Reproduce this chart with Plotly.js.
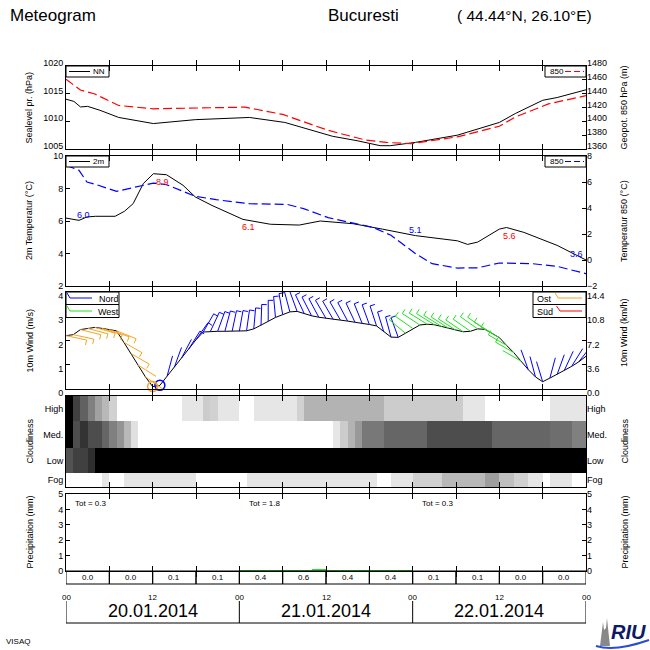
<!DOCTYPE html>
<html><head><meta charset="utf-8">
<script src="https://cdn.plot.ly/plotly-3.0.1.min.js"></script>
<style>html,body{margin:0;padding:0;background:#fff}#chart{width:650px;height:650px}</style>
</head><body><div id="chart"></div>
<script>
// ---------------- DATA ----------------
const pHours = [0,1.1,2,3,4.7,7.3,12.1,17.9,25.4,30.3,36.9,40.3,43.5,44.9,48.4,54.2,60,62.2,66,68,72];
const pNN = [1014.0,1013.6,1012.6,1012.7,1012.0,1010.7,1009.6,1010.3,1010.7,1009.8,1007.3,1006.5,1005.6,1005.6,1006.2,1007.5,1009.8,1011.4,1013.8,1014.3,1015.7];
const gHours = [0,2,4,7.3,12.1,17.9,24.8,26.5,30,36.3,41.5,44.4,47.8,54.2,60,62.2,66.8,72];
const g850 = [1460.9,1445.2,1439.5,1422.9,1418.1,1419.5,1420.5,1417.1,1410,1387,1372.9,1369.5,1367.6,1377.6,1392.9,1406.2,1425.2,1437.1];

const tHours = [0,1.8,2.9,4.1,6.8,8.1,9.3,10.7,12.1,13.9,16.2,17.9,20.2,23.1,24.5,28.3,32.3,35.2,39.8,43.8,48.4,54.2,55.6,57,60,61,63.4,68,72];
const t2m = [6.18,6.04,6.25,6.29,6.29,6.6,7.07,8.3,8.91,8.85,8.2,7.48,6.96,6.35,6.1,5.8,5.75,6.0,5.83,5.5,5.1,4.78,4.56,4.7,5.5,5.6,5.3,4.5,3.6];
const t850Hours = [0,1.8,2.9,4.1,7,9.8,12.1,13.9,17.9,20.8,25.4,30.6,32.9,36.3,39.2,42.6,45,48.4,50.7,54.2,57,60,64.5,68,72];
const t850 = [7.28,6.9,6.0,5.82,5.28,5.6,5.92,5.8,4.9,4.64,4.33,4.28,3.95,3.26,2.92,2.49,1.9,0.49,-0.28,-0.62,-0.6,-0.23,-0.28,-0.49,-1.05];
const tLabelHours = [2.4,13.3,25.3,48.4,61.4,70.7];
const tLabelVals = [6.0,8.9,6.1,5.1,5.6,3.6];
const tLabelKind = ['min','max','max','min','max','min'];

const windHours = Array.from({length:73},(_,i)=>i);
const windSpeed = [2.2,2.24,2.45,2.5,2.54,2.5,2.45,2.4,1.93,1.46,0.98,0.5,0.1,0.15,0.53,0.9,1.28,1.65,2.03,2.35,
  2.38,2.38,2.38,2.38,2.38,2.4,2.48,2.62,2.79,2.95,3.08,3.18,3.2,3.1,3.02,2.96,2.91,2.87,2.84,2.8,
  2.76,2.71,2.66,2.6,2.35,2.14,2.13,2.3,2.5,2.64,2.67,2.65,2.58,2.5,2.42,2.36,2.38,2.48,2.46,2.3,
  2.12,1.8,1.5,1.15,0.8,0.5,0.3,0.45,0.6,0.77,0.93,1.12,1.35];
const windDir = [102,102,104,105,106,108,110,112,120,120,122,125,125,10,15,20,28,32,35,30,
  25,20,15,12,10,8,5,2,0,355,350,345,340,335,333,332,330,330,330,332,
  335,338,340,342,343,345,340,310,305,303,302,302,302,303,303,304,305,305,305,302,
  300,300,300,300,340,345,343,15,20,25,32,38,44];

const cloudHigh = [1,.75,.62,.5,.37,.28,.18,0,0,0,0,0,0,0,0,0,.1,.1,.1,.2,.18,.1,.1,.1,0,0,.1,.1,.1,.1,.1,.1,.18,
  .3,.3,.3,.3,.3,.3,.3,.3,.3,.3,.3,.2,.2,.2,.2,.2,.2,.2,.2,.2,.2,.2,.1,.1,.1,0,0,0,0,0,0,0,0,0,.1,.1,.1,.1,.1];
const cloudMed = [1,.7,.8,.7,.7,.6,.5,.42,.28,.12,0,0,0,0,0,0,0,0,0,0,0,0,0,0,0,0,0,0,0,0,0,0,0,0,0,0,0,
  .1,.2,.3,.4,.53,.53,.53,.6,.6,.6,.6,.6,.6,.7,.7,.7,.7,.7,.7,.7,.7,.7,.6,.6,.6,.6,.6,.6,.6,.6,.57,.57,.57,.5,.5];
const cloudLow = [.68,.75,.75,.82].concat(Array(68).fill(1));
const cloudFog = [0,0,0,0,0,.1,0,0,.1,.1,.1,.1,.1,.1,.1,.1,.1,.1,0,0,0,0,0,0,0,
  .1,.1,.1,.1,.1,.1,.1,.1,.1,.1,.1,.1,.1,.1,.1,.1,.1,.1,0,0,.1,.1,.1,.18,.18,.18,.18,
  .28,.28,.28,.28,.28,.28,.38,.38,.25,.25,.18,.18,.1,.1,0,.1,.1,.1,0,0];
const cloudRows = ['Fog','Low','Med.','High'];

const precipHourly = [0,0,0,0,0,0,0,0,0,0,0,0,.02,.02,.01,.02,.02,.01,.02,.02,.01,.02,.02,.01,
  .04,.05,.06,.07,.09,.09,.09,.09,.08,.09,.12,.13,.08,.07,.07,.06,.06,.06,.05,.08,.08,.08,.06,.05,
  .02,.02,.01,.02,.02,.01,.02,.02,.01,.02,.02,.01,0,0,0,0,0,0,0,0,0,0,0,0];
const precip6h = [0.0,0.0,0.1,0.1,0.4,0.6,0.4,0.4,0.1,0.1,0.0,0.0];
const precipDayTot = [0.3,1.8,0.3];
const hourTickVals = [0,12,24,36,48,60,72];
const hourTickText = ['00','12','00','12','00','12','00'];
const dates = ['20.01.2014','21.01.2014','22.01.2014'];

// ---------------- LAYOUT HELPERS ----------------
const H = 650, L = 66, R = 586, PW = R - L;
const py = p => 1 - p / H;
const pxp = p => (p - L) / PW;
const FONT = 'Liberation Sans, Arial, sans-serif';
const dom = (top, bot) => [py(bot), py(top)];
const P1 = [66,149], P2 = [156,286], P3 = [292,389], P4 = [396,487], P5 = [494,571];

function xa(anchor){
  return {domain:[0,1], anchor, range:[0,72], showticklabels:false, ticks:'inside', tick0:0, dtick:6,
    ticklen:5, tickcolor:'#000', showline:true, linecolor:'#000', linewidth:1, mirror:'allticks',
    showgrid:false, zeroline:false, fixedrange:true};
}
function ya(d, range, extra){
  return Object.assign({domain:dom(d[0],d[1]), range, ticks:'inside', ticklen:4, tickcolor:'#000',
    showline:true, linecolor:'#000', linewidth:1, mirror:true, showgrid:false, zeroline:false,
    tickfont:{size:9, color:'#000', family:FONT}, fixedrange:true}, extra||{});
}
function yr(d, range, anchor, over, extra){
  return Object.assign({domain:dom(d[0],d[1]), range, anchor, overlaying:over, side:'right',
    ticks:'inside', ticklen:4, tickcolor:'#000', showline:false, showgrid:false, zeroline:false,
    tickfont:{size:9, color:'#000', family:FONT}, fixedrange:true}, extra||{});
}

const traces = [];
// Panel 1
traces.push({x:pHours, y:pNN, xaxis:'x', yaxis:'y', mode:'lines', line:{color:'#000', width:1}, hoverinfo:'skip'});
traces.push({x:gHours, y:g850, xaxis:'x', yaxis:'y6', mode:'lines', line:{color:'#ff0000', width:1.2, dash:'9px,4px'}, hoverinfo:'skip'});
// Panel 2
traces.push({x:tHours, y:t2m, xaxis:'x2', yaxis:'y2', mode:'lines', line:{color:'#000', width:1}, hoverinfo:'skip'});
traces.push({x:t850Hours, y:t850, xaxis:'x2', yaxis:'y7', mode:'lines', line:{color:'#0000ff', width:1.2, dash:'9px,4px'}, hoverinfo:'skip'});
// Panel 3 wind
traces.push({x:windHours, y:windSpeed, xaxis:'x3', yaxis:'y3', mode:'lines', line:{color:'#000', width:1}, hoverinfo:'skip'});
traces.push({x:windHours, y:windSpeed.map(v=>v*3.6), xaxis:'x3', yaxis:'y8', mode:'lines', line:{color:'rgba(0,0,0,0)', width:0}, hoverinfo:'skip'});
const qCol = {N:'#0000ff', W:'#22e022', E:'#f5a623', S:'#ff0000'};
function quad(d){ d=((d%360)+360)%360; if(d>=315||d<45) return 'N'; if(d<135) return 'E'; if(d<225) return 'S'; return 'W'; }
const pxH = PW/72, pxS = (P3[1]-P3[0])/4;
const segs = {N:{x:[],y:[]},W:{x:[],y:[]},E:{x:[],y:[]},S:{x:[],y:[]}};
const calm = {N:{x:[],y:[]},W:{x:[],y:[]},E:{x:[],y:[]},S:{x:[],y:[]}};
windHours.forEach((h,i)=>{
  const s = windSpeed[i], d = windDir[i], q = quad(d);
  if (s < 0.2){ calm[q].x.push(h); calm[q].y.push(s); return; }
  const r = d*Math.PI/180, Ls = 21;
  const ex = h + Ls*Math.sin(r)/pxH, ey = s + Ls*Math.cos(r)/pxS;
  segs[q].x.push(h, ex, null); segs[q].y.push(s, ey, null);
  if (s >= 1.4){
    const r2 = (d+90)*Math.PI/180, Lf = 5;
    segs[q].x.push(ex, ex + Lf*Math.sin(r2)/pxH, null);
    segs[q].y.push(ey, ey + Lf*Math.cos(r2)/pxS, null);
  }
});
Object.keys(segs).forEach(q=>{
  if (segs[q].x.length) traces.push({x:segs[q].x, y:segs[q].y, xaxis:'x3', yaxis:'y3', mode:'lines', line:{color:qCol[q], width:1}, hoverinfo:'skip', connectgaps:false});
  if (calm[q].x.length) traces.push({x:calm[q].x, y:calm[q].y, xaxis:'x3', yaxis:'y3', mode:'markers', marker:{symbol:'circle-open', size:10, color:qCol[q], line:{width:1.5, color:qCol[q]}}, cliponaxis:false, hoverinfo:'skip'});
});
// Panel 4 clouds
const rowEdges = [0,14,39.3,65.6,91];
traces.push({type:'heatmap', x:Array.from({length:73},(_,i)=>i), y:rowEdges, z:[cloudFog, cloudLow, cloudMed, cloudHigh],
  xaxis:'x4', yaxis:'y4', zmin:0, zmax:1, colorscale:[[0,'#ffffff'],[1,'#000000']], showscale:false, hoverinfo:'skip'});
const rowCenters = rowEdges.slice(0,4).map((e,i)=>(e+rowEdges[i+1])/2);
traces.push({x:[0,72], y:[0,91], xaxis:'x4', yaxis:'y9', mode:'lines', line:{color:'rgba(0,0,0,0)', width:0}, hoverinfo:'skip'});
// Panel 5 precipitation
traces.push({type:'bar', x:precipHourly.map((_,i)=>i+0.5), y:precipHourly, width:1, xaxis:'x5', yaxis:'y5', marker:{color:'#33dd33', line:{width:0}}, hoverinfo:'skip'});
traces.push({x:[0,72], y:[0,5], xaxis:'x5', yaxis:'y10', mode:'lines', line:{color:'rgba(0,0,0,0)', width:0}, hoverinfo:'skip'});

// ---------------- ANNOTATIONS & SHAPES ----------------
const ann = [], shp = [];
const txt = (x, y, text, size, opts) => ann.push(Object.assign({xref:'paper', yref:'paper', x:pxp(x), y:py(y), text, showarrow:false,
  font:{size, color:'#000', family:FONT}, xanchor:'left', yanchor:'middle'}, opts||{}));
const dtxt = (h, y, text, size, opts) => ann.push(Object.assign({xref:'x5', yref:'paper', x:h, y:py(y), text, showarrow:false,
  font:{size, color:'#000', family:FONT}, xanchor:'center', yanchor:'middle'}, opts||{}));
txt(8, 15, 'Meteogram', 17);
txt(326, 15, 'Bucuresti', 17);
txt(455, 15, '( 44.44\u00b0N, 26.10\u00b0E)', 15.5);
txt(4, 641, 'VISAQ', 8);
// axis titles
const vt = (x, y, t) => txt(x, y, t, 9, {textangle:-90, xanchor:'center'});
vt(29, (P1[0]+P1[1])/2, 'Sealevel pr. (hPa)');
vt(29, (P2[0]+P2[1])/2, '2m Temperatur (\u00b0C)');
vt(29, (P3[0]+P3[1])/2, '10m Wind (m/s)');
vt(29, (P4[0]+P4[1])/2, 'Cloudiness');
vt(29, (P5[0]+P5[1])/2, 'Precipitation (mm)');
vt(624, (P1[0]+P1[1])/2, 'Geopot. 850 hPa (m)');
vt(624, (P2[0]+P2[1])/2, 'Temperatur 850 (\u00b0C)');
vt(624, 333, '10m Wind (km/h)');
vt(624, (P4[0]+P4[1])/2, 'Cloudiness');
vt(624, (P5[0]+P5[1])/2, 'Precipitation (mm)');
// temperature min/max labels
tLabelHours.forEach((h,i)=>{
  ann.push({xref:'x2', yref:'y2', x:h, y:tLabelVals[i], text:tLabelVals[i].toFixed(1), showarrow:false,
    xanchor:'center', yanchor:'middle',
    font:{size:9, color: tLabelKind[i]==='max' ? '#ff0000' : '#0000ff', family:FONT},
    yshift: tLabelKind[i]==='max' ? -8 : 6});
});
// legend boxes
function legBox(x0, y0, x1, y1){ shp.push({type:'rect', xref:'paper', yref:'paper', x0:pxp(x0), x1:pxp(x1), y0:py(y1), y1:py(y0), line:{color:'#000', width:1}, fillcolor:'#fff', layer:'above'}); }
function seg(x0,y0,x1,y1,color,dash,w){ shp.push({type:'line', xref:'paper', yref:'paper', x0:pxp(x0), x1:pxp(x1), y0:py(y0), y1:py(y1), line:{color, width:w||1, dash:dash||'solid'}, layer:'above'}); }
// Panel 1
legBox(66, 66, 109, 77); seg(69, 71.5, 90, 71.5, '#000'); txt(91, 71.5, 'NN', 8);
legBox(545, 66, 586, 77); txt(548, 71.5, '850', 8); seg(565, 71.5, 584, 71.5, '#ff0000', '6px,3px', 1.2);
// Panel 2
legBox(66, 156, 109, 167); seg(69, 161.5, 90, 161.5, '#000'); txt(91, 161.5, '2m', 8);
legBox(545, 156, 586, 167); txt(548, 161.5, '850', 8); seg(565, 161.5, 584, 161.5, '#0000ff', '6px,3px', 1.2);
// Panel 3
legBox(66, 292, 119, 304.5); legBox(66, 304.5, 119, 317.5);
seg(67, 293, 70, 298, qCol.N); seg(70, 298, 92, 298, qCol.N); txt(97, 298.5, 'Nord', 9);
seg(67, 306, 70, 311, qCol.W); seg(70, 311, 92, 311, qCol.W); txt(96, 311.5, 'West', 9);
legBox(533, 292, 586, 304.5); legBox(533, 304.5, 586, 317.5);
txt(535, 298.5, 'Ost', 9); seg(555, 292.5, 558, 298, qCol.E); seg(558, 298, 582, 298, qCol.E);
txt(535, 311.5, 'S\u00fcd', 9); seg(556.5, 306, 560, 311, qCol.S); seg(560, 311, 582, 311, qCol.S);
// Precip totals
precipDayTot.forEach((v,i)=> dtxt(i*24+1, 503, 'Tot = '+v.toFixed(1), 8, {xanchor:'left'}));
// Precip table
precip6h.forEach((v,i)=>{
  shp.push({type:'rect', xref:'x5', yref:'paper', x0:i*6, x1:i*6+6, y0:py(584), y1:py(571), line:{color:'#000', width:1}});
  dtxt(i*6+3, 577.5, v.toFixed(1), 8);
});
// time labels and date box
hourTickVals.forEach((h,i)=> dtxt(h, 597, hourTickText[i], 8));
[0,24,48,72].forEach(h=>shp.push({type:'line', xref:'x5', yref:'paper', x0:h, x1:h, y0:py(623), y1:py(601), line:{color:'#000', width:1}}));
shp.push({type:'line', xref:'x5', yref:'paper', x0:0, x1:72, y0:py(623), y1:py(623), line:{color:'#000', width:1}});
dates.forEach((d,i)=> dtxt(i*24+12, 611, d, 18));
// RIU logo
const pth = pts => 'M ' + pts.map(p=>pxp(p[0])+' '+py(p[1])).join(' L ') + ' Z';
shp.push({type:'path', xref:'paper', yref:'paper', path:pth([[600,646],[602,630],[603,622],[604,630],[606,628],[607,618],[608,628],[610,646]]), fillcolor:'#888', line:{width:0}});
shp.push({type:'path', xref:'paper', yref:'paper', path:'M '+pxp(596)+' '+py(646)+' Q '+pxp(615)+' '+py(652)+' '+pxp(649)+' '+py(640), line:{color:'#2a4bd6', width:2}});
ann.push({xref:'paper', yref:'paper', x:pxp(628), y:py(632), xanchor:'center', yanchor:'middle', text:'<b><i>RIU</i></b>', showarrow:false, font:{size:20, color:'#0d1a66', family:FONT}});

const layout = {
  width:650, height:650, margin:{l:L, r:650-R, t:0, b:0, pad:0}, paper_bgcolor:'#fff', plot_bgcolor:'rgba(0,0,0,0)',
  showlegend:false, font:{family:FONT, size:9, color:'#000'}, bargap:0,
  xaxis:xa('y'), xaxis2:xa('y2'), xaxis3:xa('y3'), xaxis4:xa('y4'), xaxis5:xa('y5'),
  yaxis:ya(P1,[1005,1020],{dtick:5, ticklabelshift:-3}),
  yaxis2:ya(P2,[2,10],{dtick:2}),
  yaxis3:ya(P3,[0,4],{dtick:1, ticklabelshift:4}),
  yaxis4:ya(P4,[0,91],{tickvals:rowCenters, ticktext:cloudRows, ticks:''}),
  yaxis5:ya(P5,[0,5],{dtick:1}),
  yaxis6:yr(P1,[1360,1480],'x','y',{dtick:20, ticklabelshift:-3}),
  yaxis7:yr(P2,[-2,8],'x2','y2',{dtick:2}),
  yaxis8:yr(P3,[0,14.4],'x3','y3',{tickvals:[0,3.6,7.2,10.8,14.4], ticktext:['0.0','3.6','7.2','10.8','14.4'], ticklabelshift:4}),
  yaxis9:yr(P4,[0,91],'x4','y4',{tickvals:rowCenters, ticktext:cloudRows, ticks:''}),
  yaxis10:yr(P5,[0,5],'x5','y5',{dtick:1}),
  annotations:ann, shapes:shp
};
Plotly.newPlot('chart', traces, layout, {displayModeBar:false, staticPlot:true});
</script></body></html>
